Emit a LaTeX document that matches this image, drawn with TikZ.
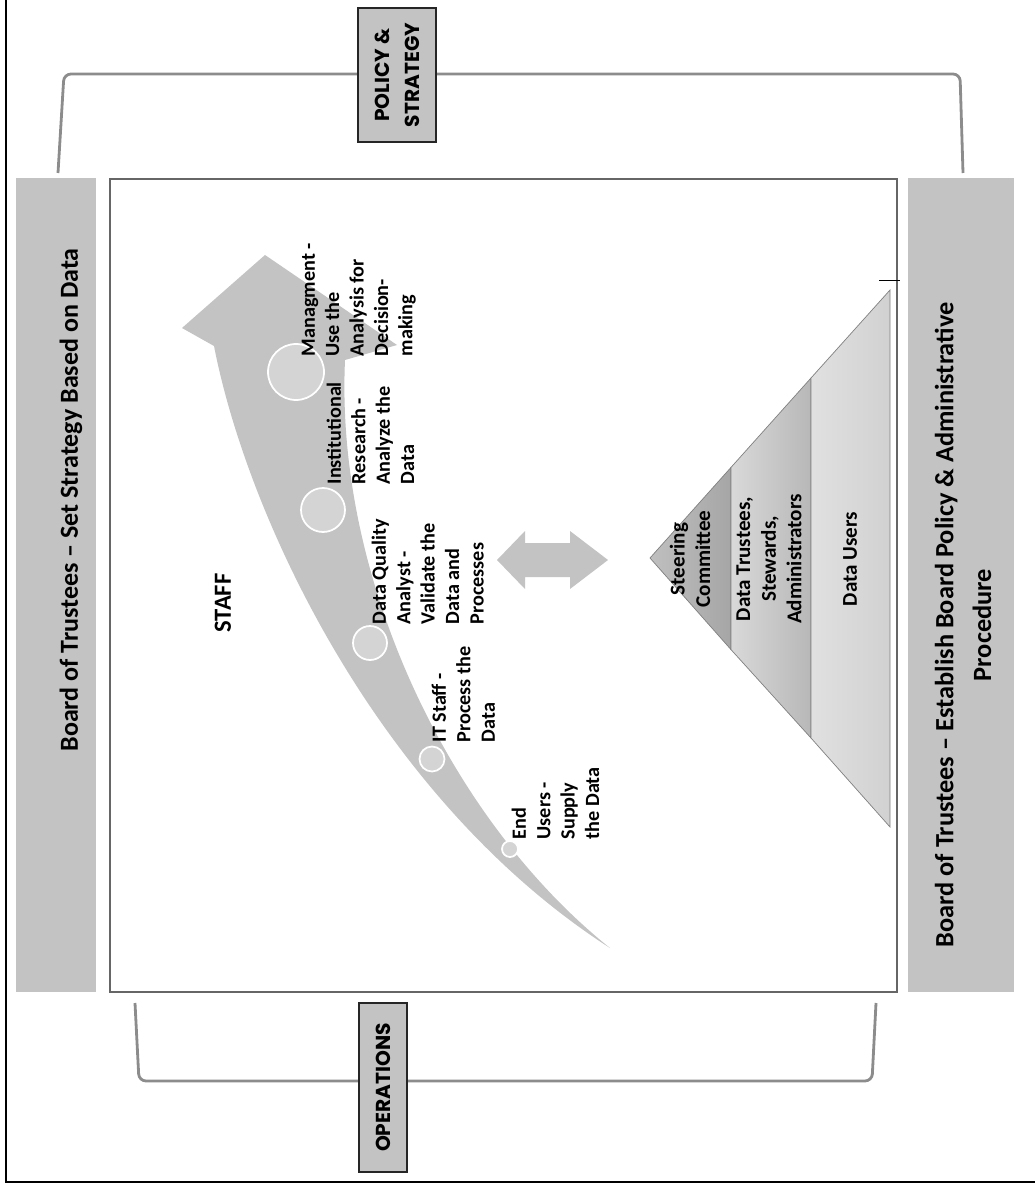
\documentclass[tikz,border=0pt]{standalone}
\usepackage{fontspec}
\setmainfont{Carlito}
\newfontfamily\capsfont{Poppins}
\usetikzlibrary{positioning}

\definecolor{barGray}{HTML}{C3C3C3}
\definecolor{lineGray}{HTML}{8C8C8C}
\definecolor{boxGray}{HTML}{666666}

\begin{document}
\begin{tikzpicture}[x=0.02cm, y=-0.02cm, thick,
    bar/.style = {fill=barGray, draw=none, inner sep=0pt},
    bracket/.style = {draw=lineGray, line width=1.6pt, rounded corners=4pt},
    tag/.style = {draw=black!85, fill=barGray, line width=0.9pt, rotate=90, inner sep=0pt, align=center, font=\capsfont\bfseries\fontsize{11.5}{17}\selectfont},
    stage/.style = {rotate=90, anchor=north west, align=left, inner sep=0pt, font=\bfseries\fontsize{11.5}{13.9}\selectfont},
    dot/.style = {circle, draw=white, line width=1pt, fill=black!17, inner sep=0pt},
    layer/.style = {rotate=90, align=center, inner sep=0pt, font=\bfseries\fontsize{12}{14.6}\selectfont},
    bigtext/.style = {rotate=90, align=center, inner sep=0pt}]
    \useasboundingbox (0,0) rectangle (1034,1189);
    % outer frame
    \draw[line width=1.2pt] (6,0) -- (6,1182) -- (1040,1182);
    % side bars and main box
    \node[bar, minimum width=1.6cm, minimum height=16.28cm] (lbar) at (56,585) {};
    \node[bar, minimum width=2.12cm, minimum height=16.28cm] (rbar) at (961,585) {};
    \node[draw=boxGray, fill=white, line width=1.6pt, minimum width=15.74cm, minimum height=16.26cm] (main) at (503.5,585.5) {};
    \node[bigtext, font=\bfseries\fontsize{14.8}{17}\selectfont] (strategy) at (71,500) {Board of Trustees -- Set Strategy Based on Data};
    \node[bigtext, font=\bfseries\fontsize{15}{21.5}\selectfont] (procedure) at (963,625) {Board of Trustees -- Establish Board Policy \& Administrative\\Procedure};
    % brackets
    \draw[bracket] (58,173) -- (64,74) -- (960,74) -- (963,173);
    \draw[bracket] (135,1003) -- (139,1081) -- (872,1081) -- (876,1003);
    \node[tag, minimum width=2.68cm, minimum height=1.56cm] (policy) at (397,75) {POLICY \&\\STRATEGY};
    \node[tag, minimum width=3.38cm, minimum height=0.96cm] (ops) at (383,1087.5) {OPERATIONS};
    % staff arrow
    \fill[barGray] (610,948) .. controls (450,820) and (335,580) .. (345,360) -- (397,345) -- (265,255) -- (182,328) -- (214,346) .. controls (248,520) and (380,800) .. (610,948) -- cycle;
    \node[rotate=90, font=\bfseries\fontsize{14}{16}\selectfont] (staff) at (223,603) {STAFF};
    \node[dot, minimum size=1.12cm] (c1) at (296,372) {};
    \node[dot, minimum size=0.88cm] (c2) at (323,510) {};
    \node[dot, minimum size=0.68cm] (c3) at (370,643) {};
    \node[dot, minimum size=0.5cm] (c4) at (432,759) {};
    \node[dot, minimum size=0.32cm] (c5) at (510,849) {};
    \node[stage] (manage) at (301,357) {Managment -\\Use the\\Analysis for\\Decision-\\making};
    \node[stage] (research) at (326,485) {Institutional\\Research -\\Analyze the\\Data};
    \node[stage] (quality) at (371,625) {Data Quality\\Analyst -\\Validate the\\Data and\\Processes};
    \node[stage] (itstaff) at (431,743) {IT Staff -\\Process the\\Data};
    \node[stage] (endusers) at (511,840) {End\\Users -\\Supply\\the Data};
    % double arrow
    \fill[barGray] (497,560) -- (525,531) -- (525,543) -- (570,543) -- (570,531) -- (608,560) -- (570,589) -- (570,577) -- (525,577) -- (525,589) -- cycle;
    % pyramid
    \shade[left color=black!25, right color=black!35, draw=black!50, thin] (650,558) -- (731,467.4) -- (731,649.6) -- cycle;
    \shade[left color=black!15, right color=black!28, draw=black!50, thin] (731,467.4) -- (811,378) -- (811,738) -- (731,649.6) -- cycle;
    \shade[left color=black!12, right color=black!18, draw=black!50, thin] (811,378) -- (890,290) -- (890,827) -- (811,738) -- cycle;
    \draw[thin] (879,280) -- (900,280);
    \node[layer] (steering) at (690,559) {Steering\\Committee};
    \node[layer] (trustees) at (769,559) {Data Trustees,\\Stewards,\\Administrators};
    \node[layer] (users) at (850,559) {Data Users};
\end{tikzpicture}
\end{document}
